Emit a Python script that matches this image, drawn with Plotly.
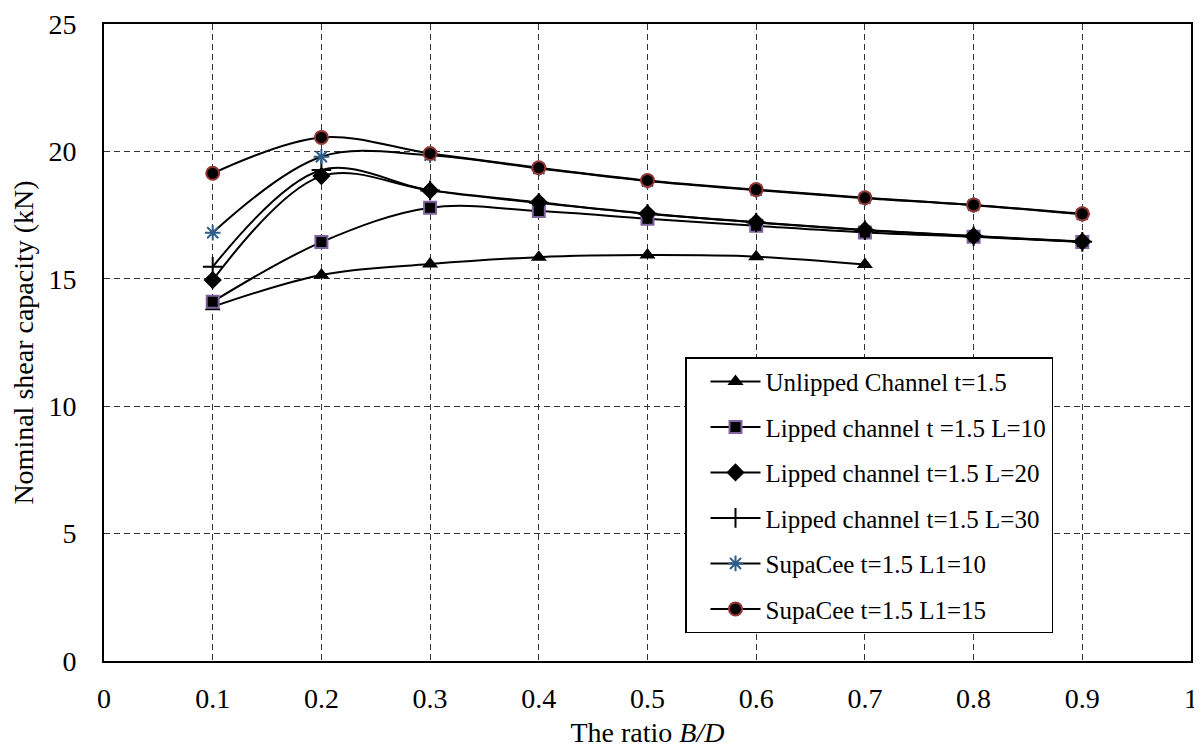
import plotly.graph_objects as go

# ---- data ----
ratio = [0.1, 0.2, 0.3, 0.4, 0.5, 0.6, 0.7, 0.8, 0.9]
ratio_unlipped = [0.1, 0.2, 0.3, 0.4, 0.5, 0.6, 0.7]

unlipped_t15 = [13.9, 15.15, 15.58, 15.85, 15.93, 15.87, 15.56]
lipped_t15_L10 = [14.1, 16.44, 17.79, 17.66, 17.36, 17.08, 16.82, 16.65, 16.44]
lipped_t15_L20 = [14.95, 19.03, 18.47, 18.0, 17.56, 17.22, 16.92, 16.68, 16.46]
lipped_t15_L30 = [15.47, 19.27, 18.47, 17.98, 17.55, 17.21, 16.91, 16.67, 16.45]
supacee_t15_L10 = [16.81, 19.79, 19.85, 19.33, 18.84, 18.48, 18.16, 17.89, 17.53]
supacee_t15_L15 = [19.14, 20.55, 19.92, 19.36, 18.86, 18.5, 18.18, 17.9, 17.55]

series_names = [
    "Unlipped Channel t=1.5",
    "Lipped channel t =1.5 L=10",
    "Lipped channel t=1.5 L=20",
    "Lipped channel t=1.5 L=30",
    "SupaCee t=1.5 L1=10",
    "SupaCee t=1.5 L1=15",
]

x_ticks = [0, 0.1, 0.2, 0.3, 0.4, 0.5, 0.6, 0.7, 0.8, 0.9, 1]
x_tick_text = ["0", "0.1", "0.2", "0.3", "0.4", "0.5", "0.6", "0.7", "0.8", "0.9", "1"]
y_ticks = [0, 5, 10, 15, 20, 25]

FONT = "Liberation Serif, Times New Roman, serif"

styles = [
    dict(symbol="triangle-up", size=14, color="black", line=dict(color="black", width=0)),
    dict(symbol="square", size=12, color="black", line=dict(color="#8064A2", width=2)),
    dict(symbol="diamond", size=14, color="black", line=dict(color="black", width=0)),
    dict(symbol="cross-thin", size=14, color="black", line=dict(color="black", width=2)),
    dict(symbol="asterisk-open", size=13, color="#2E5C8A", line=dict(color="#2E5C8A", width=2)),
    dict(symbol="circle", size=13, color="black", line=dict(color="#953735", width=2)),
]

xs = [ratio_unlipped, ratio, ratio, ratio, ratio, ratio]
ys = [unlipped_t15, lipped_t15_L10, lipped_t15_L20, lipped_t15_L30, supacee_t15_L10, supacee_t15_L15]

fig = go.Figure()
for i, (name, x, y, st) in enumerate(zip(series_names, xs, ys, styles)):
    fig.add_trace(go.Scatter(
        x=x, y=y, name=name, mode="lines+markers",
        line=dict(color="black", width=2, shape="spline", smoothing=1),
        marker=st,
        legendgroup=f"g{i}",
    ))

axis_common = dict(
    showline=True, linecolor="black", linewidth=2, mirror=True,
    showgrid=True, gridcolor="#333333", gridwidth=1, griddash="6px,4px",
    zeroline=False, automargin=False,
    ticks="outside", tickcolor="rgba(0,0,0,0)",
    tickfont=dict(family=FONT, size=28, color="black"),
)

fig.update_xaxes(
    range=[0, 1], tickvals=x_ticks, ticktext=x_tick_text, ticklen=11,
    title=dict(text="The ratio <i>B/D</i>", font=dict(family=FONT, size=28, color="black"), standoff=10),
    **axis_common,
)
fig.update_yaxes(
    range=[0, 25], tickvals=y_ticks, ticklen=20,
    title=dict(text="Nominal shear capacity (kN)", font=dict(family=FONT, size=28, color="black"), standoff=10),
    **axis_common,
)

fig.update_layout(
    width=1194, height=743,
    margin=dict(l=96, r=11, t=16, b=90),
    paper_bgcolor="white", plot_bgcolor="white",
    font=dict(family=FONT, color="black"),
    legend=dict(
        x=0.5345, y=0.477, xanchor="left", yanchor="top",
        bgcolor="white", bordercolor="black", borderwidth=1.5,
        font=dict(family=FONT, size=25, color="black"),
        traceorder="grouped", tracegroupgap=10, itemwidth=50,
        indentation=19,
    ),
    showlegend=True,
)

fig.write_html("out.html")
